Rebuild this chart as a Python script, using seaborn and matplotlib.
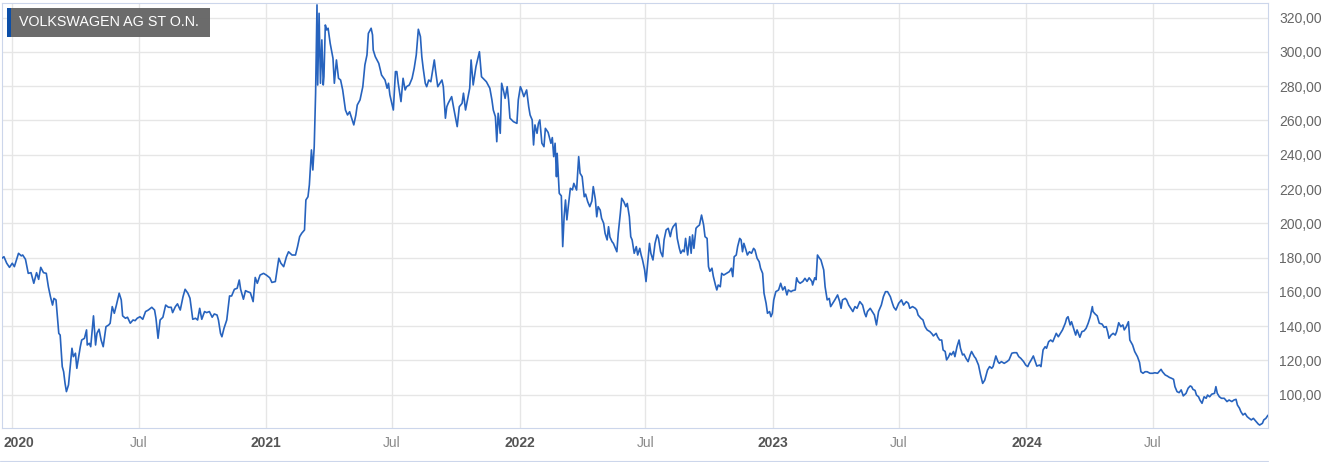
import pandas as pd
import seaborn as sns
import matplotlib.pyplot as plt
import matplotlib.ticker as mticker
import matplotlib.transforms as mtransforms
from matplotlib.lines import Line2D
from matplotlib.patches import Rectangle

# ------------------------------------------------------------------ #
# Daten (vom Chart abgelesen): Tage seit 2020-01-01 und Schlusskurs
# ------------------------------------------------------------------ #
titel = "VOLKSWAGEN AG ST O.N."
start = "2020-01-01"

tage = [
    -15, -12, -8, -4, 0, 3, 9, 13, 15, 19,
    23, 27, 31, 35, 38, 41, 45, 49, 52, 55,
    58, 60, 63, 67, 69, 72, 74, 76, 78, 81,
    84, 86, 88, 91, 93, 95, 98, 100, 104, 107,
    108, 111, 113, 117, 120, 122, 125, 128, 131, 135,
    139, 141, 144, 147, 150, 154, 157, 159, 163, 166,
    170, 174, 177, 180, 184, 188, 192, 196, 201, 205,
    207, 210, 213, 217, 221, 225, 229, 231, 235, 238,
    242, 246, 249, 253, 256, 260, 264, 267, 270, 273,
    277, 280, 284, 288, 291, 295, 297, 300, 302, 305,
    309, 313, 316, 320, 324, 327, 329, 333, 336, 339,
    343, 347, 350, 353, 357, 362, 366, 371, 374, 379,
    384, 387, 391, 395, 398, 403, 408, 411, 414, 417,
    421, 423, 426, 428, 431, 433, 435, 437, 439, 440,
    442, 444, 446, 448, 449, 451, 453, 455, 458, 462,
    464, 467, 470, 473, 476, 480, 483, 486, 489, 492,
    495, 497, 501, 505, 508, 511, 513, 517, 519, 520,
    523, 528, 532, 537, 540, 542, 544, 549, 552, 554,
    556, 560, 563, 566, 568, 572, 576, 579, 582, 585,
    588, 590, 592, 595, 597, 600, 603, 608, 610, 613,
    619, 621, 624, 626, 628, 633, 636, 641, 644, 648,
    650, 653, 659, 661, 664, 668, 673, 676, 683, 688,
    691, 693, 696, 698, 700, 703, 705, 708, 710, 713,
    715, 717, 722, 727, 729, 732, 734, 737, 741, 744,
    746, 749, 751, 753, 756, 758, 760, 763, 766, 768,
    772, 776, 778, 780, 782, 784, 785, 788, 791, 793,
    795, 797, 799, 801, 804, 807, 809, 813, 816, 818,
    821, 824, 826, 829, 832, 835, 837, 840, 842, 844,
    847, 849, 852, 854, 857, 859, 861, 864, 866, 868,
    871, 873, 876, 878, 881, 884, 886, 889, 891, 893,
    896, 899, 901, 904, 906, 908, 911, 913, 915, 918,
    920, 923, 926, 929, 931, 934, 937, 939, 942, 945,
    948, 950, 952, 956, 958, 961, 963, 966, 968, 970,
    973, 976, 978, 980, 982, 985, 987, 990, 993, 996,
    998, 1001, 1003, 1005, 1008, 1010, 1013, 1015, 1017, 1020,
    1022, 1025, 1029, 1033, 1036, 1038, 1040, 1043, 1045, 1048,
    1050, 1052, 1054, 1057, 1059, 1062, 1065, 1068, 1070, 1073,
    1076, 1078, 1081, 1083, 1086, 1088, 1091, 1093, 1095, 1097,
    1100, 1104, 1107, 1110, 1113, 1116, 1118, 1122, 1124, 1128,
    1130, 1132, 1135, 1139, 1142, 1145, 1148, 1152, 1153, 1156,
    1158, 1160, 1163, 1165, 1169, 1171, 1174, 1177, 1179, 1182,
    1185, 1189, 1192, 1194, 1196, 1200, 1202, 1205, 1208, 1211,
    1214, 1217, 1221, 1225, 1228, 1230, 1232, 1236, 1239, 1242,
    1245, 1248, 1252, 1255, 1258, 1261, 1265, 1268, 1270, 1273,
    1277, 1279, 1281, 1284, 1288, 1291, 1293, 1297, 1301, 1303,
    1305, 1309, 1312, 1315, 1318, 1322, 1325, 1327, 1331, 1333,
    1336, 1339, 1341, 1344, 1346, 1349, 1351, 1353, 1356, 1358,
    1361, 1364, 1366, 1369, 1371, 1374, 1377, 1380, 1382, 1386,
    1388, 1392, 1395, 1398, 1401, 1405, 1408, 1411, 1413, 1417,
    1420, 1422, 1425, 1429, 1433, 1436, 1440, 1443, 1447, 1450,
    1453, 1457, 1460, 1463, 1465, 1468, 1471, 1473, 1476, 1480,
    1482, 1485, 1488, 1490, 1493, 1496, 1499, 1501, 1504, 1507,
    1510, 1513, 1517, 1519, 1521, 1524, 1526, 1529, 1532, 1534,
    1538, 1541, 1544, 1547, 1550, 1553, 1556, 1557, 1560, 1563,
    1566, 1570, 1573, 1576, 1578, 1580, 1583, 1586, 1589, 1591,
    1594, 1597, 1600, 1602, 1605, 1608, 1610, 1614, 1617, 1621,
    1624, 1626, 1629, 1632, 1635, 1639, 1643, 1646, 1650, 1652,
    1655, 1657, 1661, 1664, 1667, 1670, 1673, 1675, 1678, 1681,
    1684, 1687, 1691, 1694, 1697, 1699, 1701, 1704, 1706, 1709,
    1711, 1714, 1717, 1720, 1722, 1725, 1728, 1732, 1734, 1736,
    1739, 1742, 1746, 1750, 1753, 1757, 1760, 1763, 1765, 1768,
    1770, 1773, 1776, 1779, 1782, 1785, 1788, 1792, 1795, 1797,
    1801, 1803, 1806, 1809,
]

kurs = [
    179.6, 180.5, 176.7, 174.3, 176.7, 174.7, 182.5, 181.0, 181.5, 179.0,
    170.8, 171.2, 165.0, 171.2, 167.3, 174.3, 171.2, 170.8, 163.0, 157.2,
    152.3, 156.2, 155.3, 135.8, 134.8, 116.4, 113.4, 106.7, 101.8, 105.7,
    118.3, 127.1, 122.2, 124.2, 115.4, 120.3, 128.0, 131.9, 132.9, 137.8,
    129.0, 130.0, 128.0, 146.0, 129.0, 135.8, 138.2, 131.9, 128.0, 139.7,
    140.7, 141.7, 151.4, 147.5, 152.3, 159.2, 155.3, 146.0, 144.6, 145.2,
    141.7, 143.6, 143.2, 144.6, 145.5, 144.0, 148.5, 149.4, 151.0, 149.4,
    144.6, 132.9, 143.6, 145.2, 152.3, 151.0, 151.0, 147.9, 151.4, 153.0,
    149.4, 157.2, 161.5, 159.2, 156.3, 144.0, 144.6, 143.6, 150.4, 144.0,
    148.5, 147.9, 148.5, 145.2, 147.1, 146.5, 143.6, 135.8, 133.8, 138.7,
    143.6, 157.6, 157.6, 161.5, 162.1, 166.9, 161.5, 155.7, 160.7, 160.1,
    159.5, 154.3, 168.4, 165.0, 169.8, 170.8, 169.8, 168.2, 165.5, 166.0,
    179.6, 176.7, 174.7, 180.5, 183.4, 181.5, 181.5, 186.4, 192.2, 194.2,
    196.1, 213.6, 215.5, 222.4, 242.8, 231.1, 244.7, 275.9, 327.4, 280.7,
    322.5, 281.7, 307.0, 280.7, 285.5, 315.7, 312.8, 313.8, 305.0, 296.3,
    281.7, 295.3, 284.6, 283.6, 277.8, 266.1, 263.2, 265.1, 261.3, 257.4,
    263.2, 269.0, 272.0, 279.7, 292.4, 298.2, 310.8, 313.8, 309.9, 301.1,
    297.2, 293.3, 286.5, 283.6, 278.8, 281.7, 274.9, 266.1, 288.5, 288.5,
    281.7, 271.0, 284.6, 277.8, 279.7, 280.7, 284.6, 290.4, 298.2, 313.2,
    308.9, 297.2, 290.4, 281.7, 279.7, 283.6, 282.6, 295.3, 288.5, 279.7,
    283.6, 279.7, 261.3, 268.0, 270.0, 273.9, 267.1, 256.4, 268.0, 270.0,
    275.9, 266.1, 278.8, 295.3, 280.7, 291.4, 300.1, 285.5, 282.6, 278.8,
    272.0, 266.1, 262.2, 247.6, 264.2, 252.5, 281.7, 276.8, 272.9, 279.7,
    272.0, 261.3, 259.3, 258.3, 272.0, 279.7, 277.8, 273.9, 277.8, 268.0,
    263.2, 260.3, 245.7, 257.4, 252.5, 258.3, 260.3, 246.7, 244.7, 255.4,
    253.0, 246.7, 250.0, 238.9, 246.7, 227.2, 240.8, 217.5, 216.0, 186.4,
    203.8, 213.6, 202.0, 209.7, 220.4, 219.5, 223.3, 219.4, 238.9, 229.2,
    227.2, 215.5, 217.0, 212.6, 209.7, 213.0, 221.4, 214.0, 203.8, 209.7,
    207.7, 202.9, 200.0, 194.2, 190.3, 198.0, 192.0, 189.3, 188.3, 186.4,
    183.4, 194.2, 205.8, 214.6, 212.6, 209.7, 211.6, 203.8, 192.2, 190.3,
    182.5, 186.4, 181.5, 185.4, 181.5, 178.6, 172.8, 166.0, 174.7, 188.3,
    182.5, 178.6, 188.3, 193.2, 191.2, 183.4, 180.5, 190.3, 196.1, 197.1,
    192.2, 196.1, 198.0, 200.0, 191.2, 185.4, 182.5, 184.4, 183.4, 191.2,
    181.5, 192.2, 182.5, 193.2, 185.4, 197.1, 198.0, 199.0, 204.8, 199.0,
    192.2, 191.2, 174.7, 172.0, 173.8, 169.0, 164.0, 161.1, 164.0, 163.0,
    170.8, 169.8, 170.8, 171.8, 173.8, 168.9, 180.5, 181.5, 186.4, 191.2,
    190.3, 183.4, 188.3, 184.4, 181.5, 183.4, 182.5, 185.4, 184.4, 179.6,
    177.6, 173.8, 170.8, 159.2, 153.3, 147.5, 148.5, 145.5, 147.5, 155.3,
    160.1, 161.1, 165.0, 161.1, 163.0, 158.2, 161.1, 160.1, 160.7, 161.1,
    168.2, 166.1, 165.0, 166.1, 167.9, 166.1, 168.2, 166.1, 164.0, 168.2,
    167.1, 181.5, 179.6, 178.6, 172.8, 163.0, 155.3, 156.2, 151.4, 153.3,
    155.3, 158.2, 154.3, 150.4, 155.3, 156.2, 155.3, 152.3, 150.4, 148.5,
    151.4, 150.4, 154.3, 152.3, 147.5, 145.5, 148.5, 150.4, 148.5, 146.5,
    140.7, 148.5, 152.3, 157.2, 160.1, 160.1, 157.2, 153.3, 151.0, 149.4,
    153.3, 154.3, 155.3, 152.3, 154.3, 153.3, 150.4, 151.4, 150.4, 149.4,
    146.5, 144.6, 143.6, 139.7, 137.8, 136.8, 135.5, 134.3, 135.8, 133.8,
    131.9, 131.9, 126.1, 125.2, 120.3, 122.2, 124.2, 123.2, 125.2, 122.2,
    128.0, 131.9, 127.1, 123.2, 123.7, 121.2, 119.3, 123.2, 125.2, 122.2,
    121.2, 117.3, 111.5, 106.6, 108.5, 114.4, 116.4, 115.4, 116.4, 122.6,
    119.3, 118.3, 119.3, 118.3, 119.3, 120.3, 124.2, 124.5, 124.5, 122.2,
    121.2, 119.3, 117.3, 116.4, 118.3, 120.3, 122.6, 120.3, 116.7, 117.3,
    116.4, 126.1, 128.0, 127.1, 130.9, 131.9, 130.9, 132.9, 135.8, 133.8,
    135.8, 137.8, 141.7, 144.6, 145.5, 140.7, 142.6, 138.7, 134.8, 137.8,
    133.5, 136.8, 137.2, 138.7, 141.7, 145.5, 151.4, 148.5, 147.1, 146.0,
    141.7, 141.2, 139.3, 139.7, 136.8, 132.9, 134.8, 135.8, 134.8, 136.8,
    142.0, 139.7, 140.7, 137.8, 139.7, 142.6, 131.9, 129.0, 125.2, 122.2,
    118.8, 113.4, 112.5, 113.4, 113.4, 112.5, 112.5, 112.8, 112.5, 113.4,
    114.8, 113.4, 111.5, 110.9, 110.1, 109.6, 109.0, 104.7, 101.8, 101.2,
    102.8, 99.3, 100.8, 103.8, 105.1, 104.7, 103.1, 102.5, 99.8, 98.8,
    96.9, 95.0, 98.8, 97.9, 99.8, 98.8, 100.3, 100.8, 104.7, 100.8,
    98.8, 97.9, 97.9, 96.0, 96.9, 96.0, 96.9, 97.3, 94.0, 92.1,
    90.1, 88.2, 89.1, 87.2, 86.2, 85.3, 86.2, 84.3, 82.9, 82.3,
    83.3, 85.3, 86.2, 88.0,
]

x_ticks = ["2020-01-01", "2020-07-01", "2021-01-01", "2021-07-01", "2022-01-01",
           "2022-07-01", "2023-01-01", "2023-07-01", "2024-01-01", "2024-07-01"]
x_labels = ["2020", "Jul", "2021", "Jul", "2022", "Jul", "2023", "Jul", "2024", "Jul"]
y_ticks = [100, 120, 140, 160, 180, 200, 220, 240, 260, 280, 300, 320]

assert len(tage) == len(kurs)

df = pd.DataFrame({
    "Datum": pd.Timestamp(start) + pd.to_timedelta(tage, unit="D"),
    "Kurs": kurs,
})

# ------------------------------------------------------------------ #
# Layout
# ------------------------------------------------------------------ #
W, H = 1337, 462
sns.set_style("white")
plt.rcParams["font.family"] = ["Liberation Sans", "DejaVu Sans"]

fig = plt.figure(figsize=(W / 100, H / 100), dpi=100)
links, rechts, oben, unten = 2, 1268.3, 2.7, 427.7
ax = fig.add_axes([links / W, 1 - unten / H, (rechts - links) / W, (unten - oben) / H])

sns.lineplot(data=df, x="Datum", y="Kurs", ax=ax, color="#2763be",
             linewidth=1.2, zorder=3)

t0 = pd.Timestamp(start)
ax.set_xlim(t0 - pd.Timedelta(days=14.8), t0 + pd.Timedelta(days=1809.5))
ax.set_ylim(80.75, 328.7)

ax.set_xticks(pd.to_datetime(x_ticks))
ax.set_xticklabels(x_labels)
ax.set_yticks(y_ticks)
ax.yaxis.set_major_formatter(
    mticker.FuncFormatter(lambda v, _p: f"{v:.2f}".replace(".", ",")))
ax.yaxis.tick_right()

ax.tick_params(axis="y", length=0, pad=8, labelsize=10, labelcolor="#666666")
ax.tick_params(axis="x", length=0, pad=6, labelsize=10)
for lbl in ax.get_xticklabels():
    if lbl.get_text() == "Jul":
        lbl.set_color("#8a8a8a")
    else:
        lbl.set_color("#555555")
        lbl.set_fontweight("bold")
# erstes Label etwas nach rechts, damit es im Bild bleibt
erstes = ax.get_xticklabels()[0]
erstes.set_transform(erstes.get_transform()
                     + mtransforms.ScaledTranslation(5 / 72, 0, fig.dpi_scale_trans))

ax.grid(True, color="#e6e6e6", linewidth=1.0)
ax.set_axisbelow(True)
for sp in ax.spines.values():
    sp.set_color("#ccd6eb")
    sp.set_linewidth(0.8)
ax.set_xlabel("")
ax.set_ylabel("")

# Titelbox oben links
fig.add_artist(Rectangle((11 / W, 1 - 36.7 / H), 199 / W, 28.4 / H,
                         transform=fig.transFigure, facecolor="#666666",
                         edgecolor="none", alpha=0.97, zorder=5))
fig.add_artist(Rectangle((6.7 / W, 1 - 36.7 / H), 4.3 / W, 28.4 / H,
                         transform=fig.transFigure, facecolor="#0b4ea8",
                         edgecolor="none", zorder=5))
fig.text(19.3 / W, 1 - 22.5 / H, titel, color="white", fontsize=10.3,
         ha="left", va="center", zorder=6)

# Linie des Navigators am unteren Rand
fig.add_artist(Line2D([0, rechts / W], [1 - 461 / H] * 2,
                      transform=fig.transFigure, color="#ccd6eb", linewidth=0.8))

fig.savefig("out.png", dpi=100)
plt.close(fig)
